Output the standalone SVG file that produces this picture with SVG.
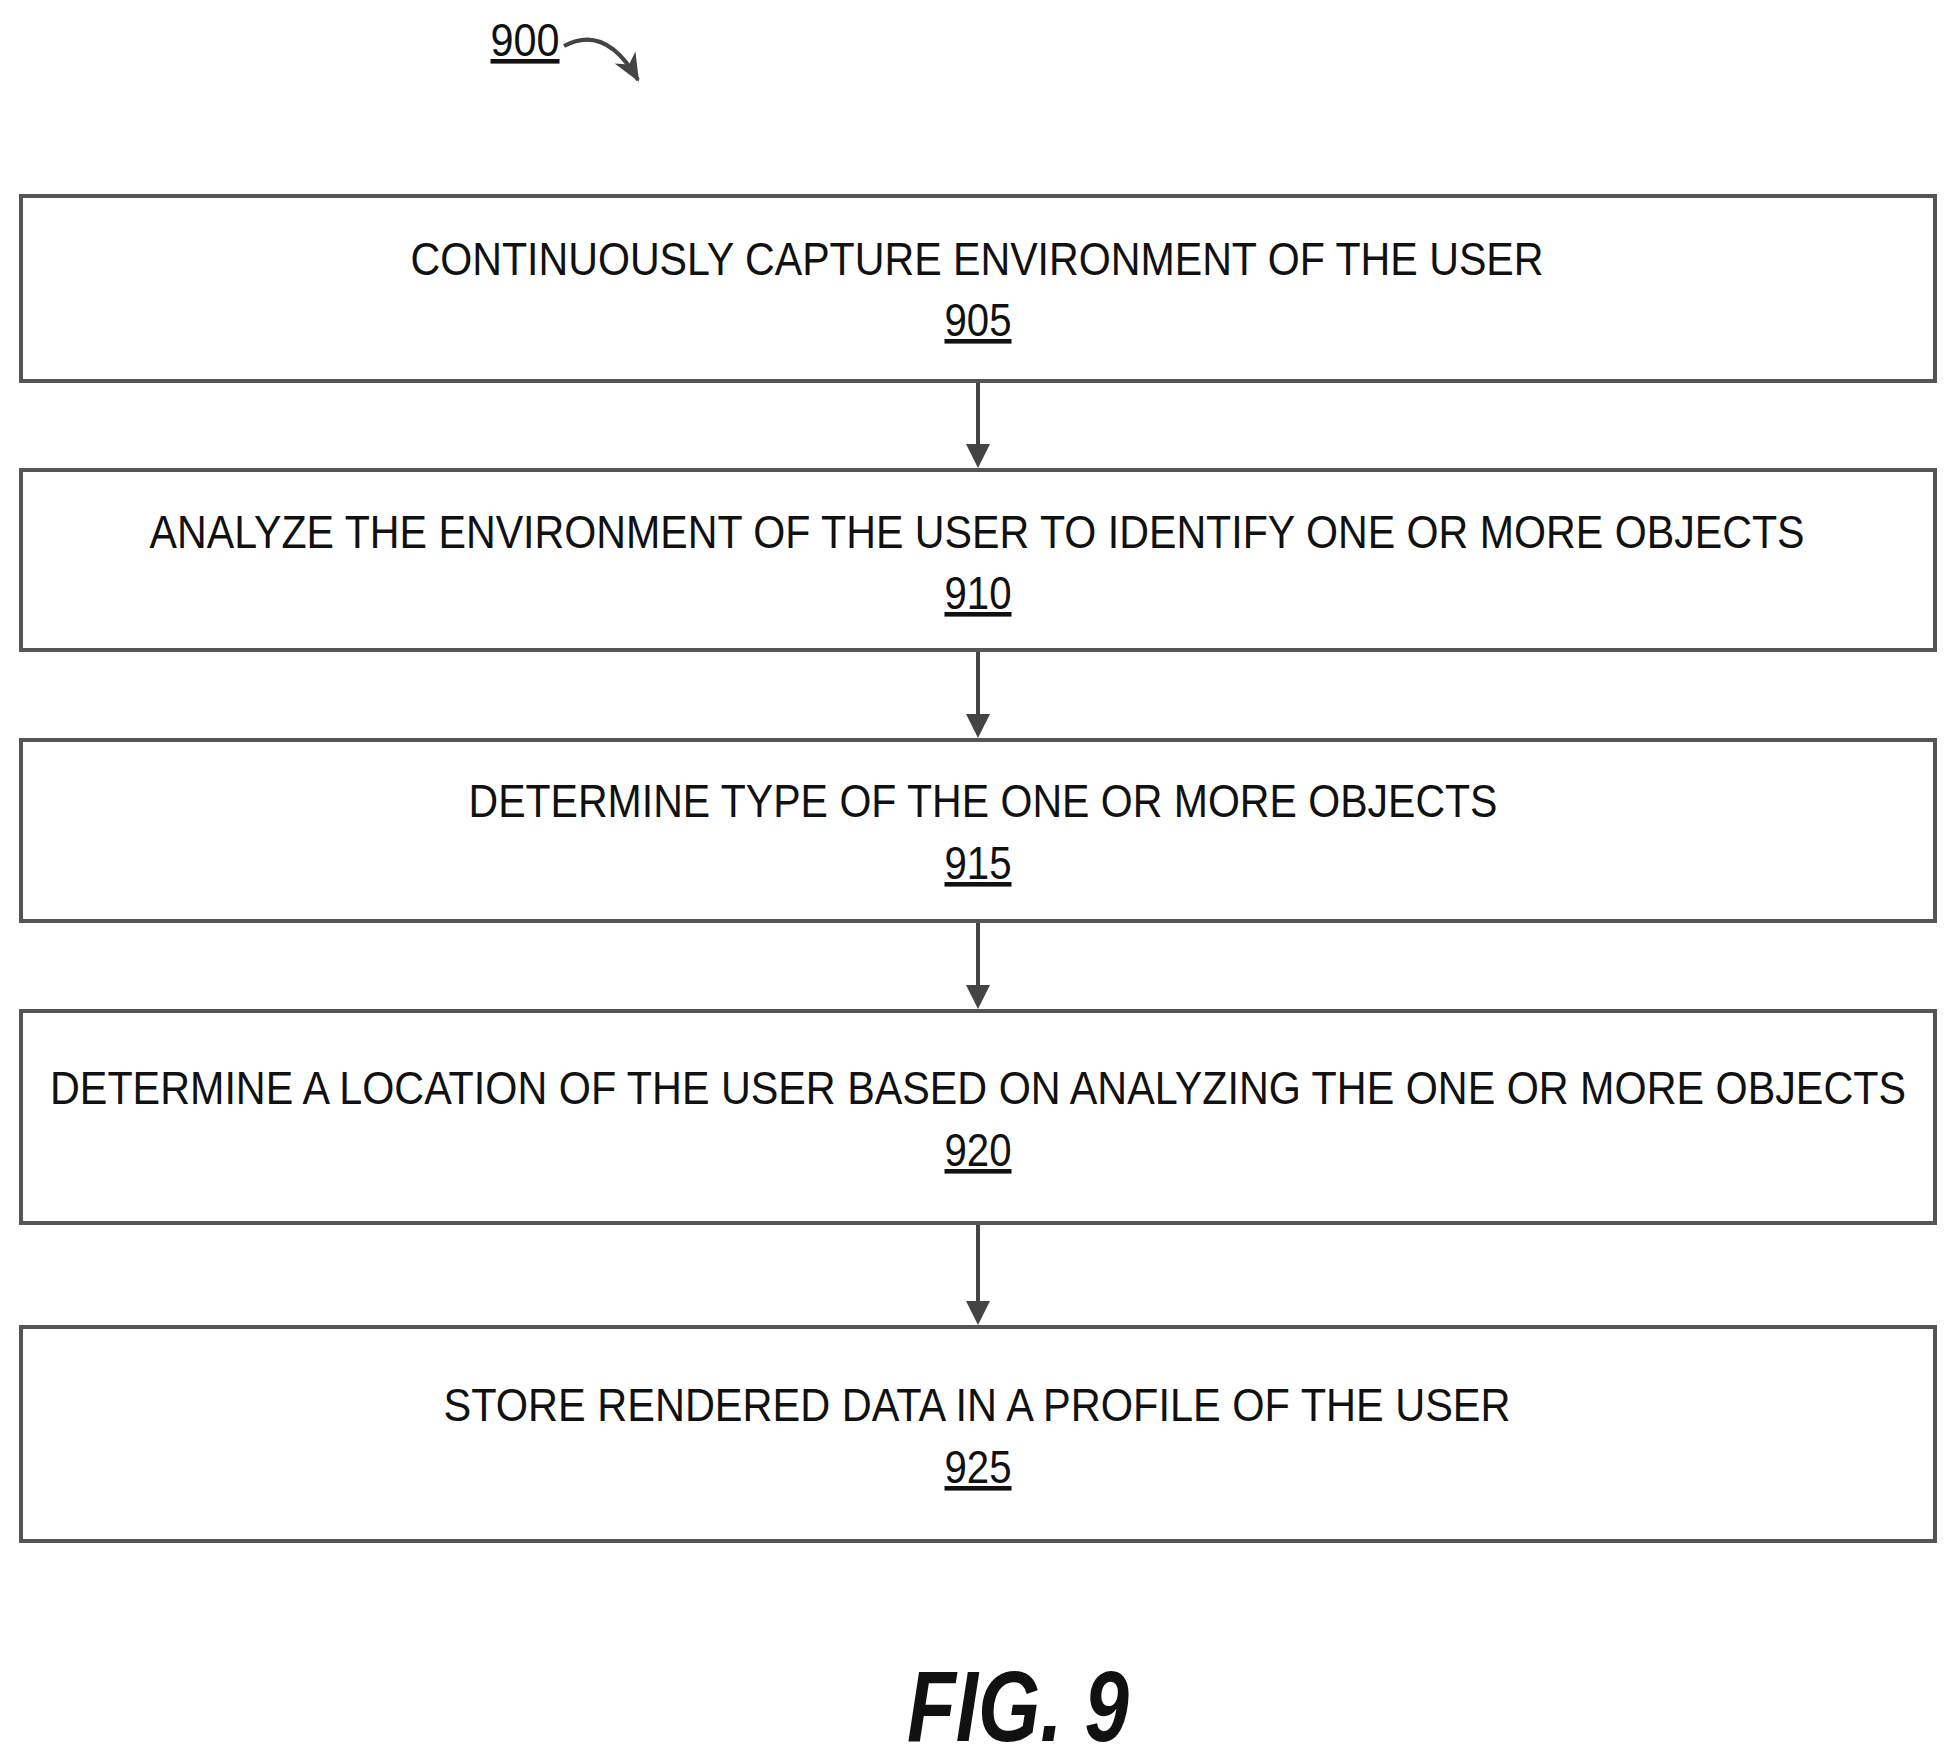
<svg xmlns="http://www.w3.org/2000/svg" width="1957" height="1764" viewBox="0 0 1957 1764">
<style>
.box{fill:#fff;stroke:#555;stroke-width:4}
.t{font-family:"Liberation Sans",Arial,sans-serif;font-size:46px;fill:#111;text-anchor:middle}
.n{text-decoration:underline}
.c{stroke:#444;stroke-width:4;fill:none}
</style>
<defs><marker id="ah" markerWidth="10" markerHeight="10" refX="9" refY="5" orient="auto" markerUnits="userSpaceOnUse" viewBox="0 0 10 10"><path d="M0,0 L10,5 L0,10 z" fill="#444"/></marker>
<marker id="a2" markerWidth="28" markerHeight="28" refX="26" refY="14" orient="auto" markerUnits="userSpaceOnUse"><path d="M0,2 L28,14 L0,26 L8,14 z" fill="#444"/></marker></defs>
<rect width="1957" height="1764" fill="#fff"/>
<g id="label900"><text class="t n" x="525" y="56" textLength="69" lengthAdjust="spacingAndGlyphs">900</text>
<path class="c" d="M564,46 C590,32 615,40 638,80" stroke-width="3" marker-end="url(#a2)"/></g>
<g id="n905"><rect class="box" x="21" y="196" width="1914" height="185"/><text class="t" x="977" y="275" textLength="1133" lengthAdjust="spacingAndGlyphs">CONTINUOUSLY CAPTURE ENVIRONMENT OF THE USER</text><text class="t n" x="978" y="336" textLength="67" lengthAdjust="spacingAndGlyphs">905</text></g>
<g id="n910"><rect class="box" x="21" y="470" width="1914" height="180"/><text class="t" x="977" y="548" textLength="1655" lengthAdjust="spacingAndGlyphs">ANALYZE THE ENVIRONMENT OF THE USER TO IDENTIFY ONE OR MORE OBJECTS</text><text class="t n" x="978" y="609" textLength="67" lengthAdjust="spacingAndGlyphs">910</text></g>
<g id="n915"><rect class="box" x="21" y="740" width="1914" height="181"/><text class="t" x="983" y="817" textLength="1029" lengthAdjust="spacingAndGlyphs">DETERMINE TYPE OF THE ONE OR MORE OBJECTS</text><text class="t n" x="978" y="879" textLength="67" lengthAdjust="spacingAndGlyphs">915</text></g>
<g id="n920"><rect class="box" x="21" y="1011" width="1914" height="212"/><text class="t" x="978" y="1104" textLength="1856" lengthAdjust="spacingAndGlyphs">DETERMINE A LOCATION OF THE USER BASED ON ANALYZING THE ONE OR MORE OBJECTS</text><text class="t n" x="978" y="1166" textLength="67" lengthAdjust="spacingAndGlyphs">920</text></g>
<g id="n925"><rect class="box" x="21" y="1327" width="1914" height="214"/><text class="t" x="977" y="1421" textLength="1067" lengthAdjust="spacingAndGlyphs">STORE RENDERED DATA IN A PROFILE OF THE USER</text><text class="t n" x="978" y="1483" textLength="67" lengthAdjust="spacingAndGlyphs">925</text></g>
<g id="connectors" fill="#444">
<line class="c" x1="978" y1="383" x2="978" y2="448"/><path d="M966,444 L978,468 L990,444 z"/>
<line class="c" x1="978" y1="652" x2="978" y2="718"/><path d="M966,714 L978,738 L990,714 z"/>
<line class="c" x1="978" y1="923" x2="978" y2="989"/><path d="M966,985 L978,1009 L990,985 z"/>
<line class="c" x1="978" y1="1225" x2="978" y2="1305"/><path d="M966,1301 L978,1325 L990,1301 z"/>
</g>
<text x="1018" y="1741" font-family="Liberation Sans,Arial,sans-serif" font-size="100" font-weight="bold" font-style="italic" text-anchor="middle" fill="#111" textLength="222" lengthAdjust="spacingAndGlyphs">FIG. 9</text>
</svg>
